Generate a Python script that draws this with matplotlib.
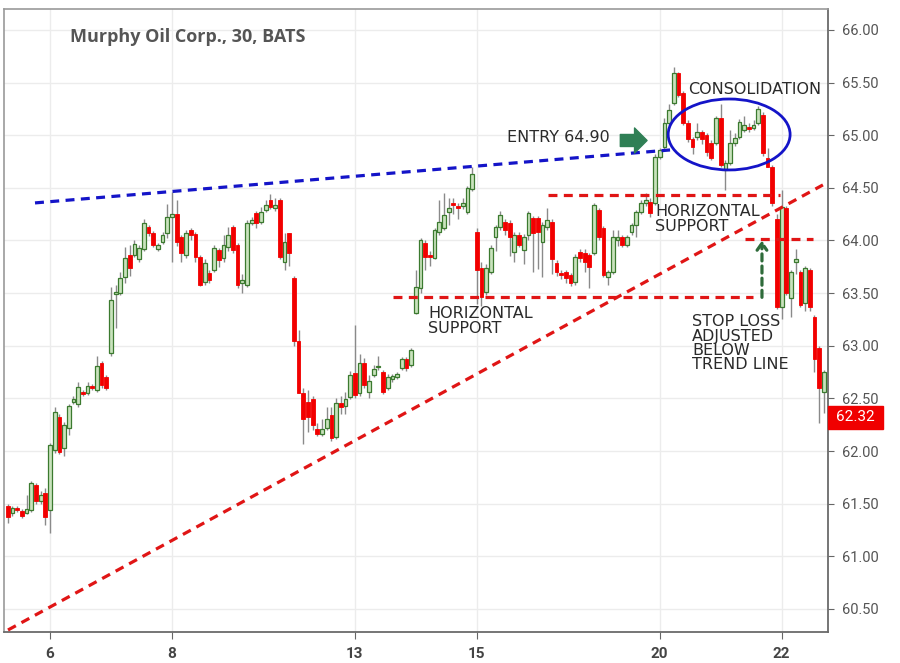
import numpy as np
import matplotlib
matplotlib.use("Agg")
import matplotlib.pyplot as plt
import matplotlib.transforms as mtransforms
from matplotlib.patches import Ellipse, Rectangle

# 30 minute bars (first 9 bars belong to the 5th)
opens = [
    61.48, 61.41, 61.46, 61.43, 61.41, 61.44, 61.68, 61.53, 61.60,
    61.44, 62.01, 62.32, 62.03, 62.22, 62.47, 62.45, 62.56, 62.55, 62.62, 62.58, 62.84, 62.70,
    62.93, 63.49, 63.50, 63.65, 63.86, 63.86, 63.82, 63.92, 64.13, 64.07, 63.92, 63.99, 64.07,
    64.22, 64.25, 64.03, 63.86, 64.10, 64.06, 63.84, 63.61, 63.69, 63.72, 63.91, 63.83, 63.94,
    64.13, 63.96, 63.60, 63.58, 64.17, 64.26, 64.18, 64.29, 64.38, 64.31, 64.38, 63.80, 64.07,
    63.64, 63.05, 62.55, 62.47, 62.49, 62.21, 62.16, 62.22, 62.34, 62.13, 62.46, 62.43, 62.51,
    62.74, 62.55, 62.84, 62.56, 62.72, 62.80, 62.75, 62.60, 62.68, 62.70, 62.79, 62.87, 62.82,
    63.31, 63.55, 63.98, 63.86, 63.83, 64.08, 64.12, 64.27, 64.36, 64.33, 64.33, 64.27, 64.49,
    64.08, 63.74, 63.51, 63.70, 64.03, 64.13, 64.18, 64.17, 63.89, 64.05, 63.91, 64.05, 64.21,
    64.21, 63.99, 64.13, 64.18, 63.79, 63.69, 63.70, 63.67, 63.61, 63.89, 63.88, 63.86, 63.88,
    64.29, 64.12, 63.65, 63.70, 64.00, 64.03, 63.96, 64.08, 64.15, 64.27, 64.36, 64.37, 64.36,
    64.79, 64.89, 65.12, 65.31, 65.59, 65.40, 65.12, 64.96, 64.98, 65.03, 65.00, 64.93, 64.93,
    65.16, 64.67, 64.74, 64.93, 64.98, 65.05, 65.08, 65.07, 65.12, 65.19, 64.78, 64.70, 64.20,
    63.37, 64.31, 63.45, 63.80, 63.70, 63.41, 63.72, 63.27, 62.98, 62.56,
]
closes = [
    61.37, 61.46, 61.44, 61.38, 61.45, 61.70, 61.53, 61.58, 61.37,
    62.06, 62.37, 61.99, 62.25, 62.43, 62.49, 62.61, 62.54, 62.62, 62.60, 62.81, 62.63, 62.60,
    63.43, 63.51, 63.64, 63.83, 63.74, 63.97, 63.93, 64.17, 64.07, 63.96, 63.96, 64.05, 64.22,
    64.25, 63.99, 63.88, 64.07, 64.05, 63.84, 63.58, 63.79, 63.62, 63.93, 63.81, 63.96, 64.05,
    63.91, 63.58, 63.62, 64.17, 64.19, 64.17, 64.27, 64.34, 64.32, 64.34, 63.84, 63.99, 63.88,
    63.05, 62.55, 62.30, 62.32, 62.25, 62.16, 62.21, 62.30, 62.12, 62.46, 62.42, 62.49, 62.72,
    62.53, 62.84, 62.63, 62.67, 62.78, 62.81, 62.56, 62.70, 62.71, 62.73, 62.87, 62.79, 62.96,
    63.56, 64.00, 63.84, 63.84, 64.10, 64.18, 64.24, 64.31, 64.34, 64.31, 64.36, 64.50, 64.63,
    63.72, 63.46, 63.74, 63.93, 64.13, 64.24, 64.10, 64.03, 64.05, 63.96, 64.03, 64.26, 64.07,
    64.08, 64.15, 64.19, 63.82, 63.70, 63.67, 63.64, 63.60, 63.84, 63.83, 63.80, 63.75, 64.34,
    64.03, 63.67, 63.70, 64.03, 64.03, 63.96, 64.03, 64.15, 64.27, 64.36, 64.38, 64.26, 64.79,
    64.86, 65.12, 65.24, 65.59, 65.38, 65.12, 64.96, 64.89, 65.03, 64.96, 64.84, 64.78, 65.16,
    64.72, 64.74, 64.93, 64.97, 65.13, 65.10, 65.06, 65.10, 65.25, 64.83, 64.70, 64.36, 63.37,
    64.32, 63.50, 63.70, 63.82, 63.39, 63.74, 63.37, 62.87, 62.60, 62.75,
]
highs = [
    61.50, 61.48, 61.48, 61.45, 61.58, 61.72, 61.70, 61.62, 61.65,
    62.08, 62.42, 62.35, 62.28, 62.45, 62.52, 62.66, 62.58, 62.66, 62.64, 62.90, 62.86, 62.72,
    63.56, 63.58, 63.70, 63.94, 63.96, 64.00, 63.96, 64.20, 64.15, 64.09, 63.98, 64.08, 64.35,
    64.46, 64.38, 64.05, 64.10, 64.12, 64.08, 63.86, 63.82, 63.72, 63.96, 63.93, 64.05, 64.13,
    64.15, 63.98, 63.68, 64.19, 64.22, 64.28, 64.32, 64.38, 64.44, 64.40, 64.40, 64.07, 64.07,
    63.66, 63.15, 62.60, 62.58, 62.52, 62.27, 62.30, 62.42, 62.42, 62.50, 62.52, 62.56, 62.76,
    63.20, 62.92, 62.88, 62.72, 62.82, 62.90, 62.77, 62.73, 62.73, 62.75, 62.89, 62.89, 62.98,
    63.72, 64.02, 64.00, 63.90, 64.12, 64.38, 64.45, 64.40, 64.40, 64.36, 64.40, 64.52, 64.70,
    64.12, 63.80, 63.78, 63.96, 64.15, 64.28, 64.20, 64.19, 64.08, 64.08, 64.06, 64.28, 64.23,
    64.23, 64.18, 64.31, 64.20, 63.81, 63.72, 63.72, 63.69, 63.87, 63.92, 63.92, 63.88, 64.36,
    64.31, 64.14, 63.72, 64.10, 64.10, 64.05, 64.05, 64.17, 64.29, 64.38, 64.45, 64.40, 64.82,
    64.88, 65.16, 65.30, 65.65, 65.60, 65.42, 65.14, 64.98, 65.12, 65.05, 65.02, 64.95, 65.18,
    65.30, 64.76, 65.05, 65.02, 65.15, 65.18, 65.12, 65.14, 65.28, 65.22, 64.88, 64.72, 64.25,
    64.48, 64.33, 63.72, 63.92, 63.72, 63.76, 63.74, 63.29, 63.00, 62.77,
]
lows = [
    61.32, 61.38, 61.42, 61.36, 61.40, 61.42, 61.50, 61.50, 61.30,
    61.22, 61.98, 61.97, 61.95, 62.15, 62.45, 62.42, 62.52, 62.53, 62.58, 62.56, 62.60, 62.58,
    62.90, 63.17, 63.48, 63.60, 63.66, 63.84, 63.80, 63.90, 64.04, 63.94, 63.90, 63.97, 64.02,
    63.80, 63.95, 63.80, 63.83, 64.00, 63.80, 63.57, 63.58, 63.60, 63.70, 63.75, 63.80, 63.90,
    63.88, 63.55, 63.50, 63.56, 64.15, 64.12, 64.16, 64.27, 64.30, 64.28, 63.82, 63.72, 63.76,
    63.00, 62.55, 62.07, 62.18, 62.20, 62.14, 62.14, 62.20, 62.10, 62.11, 62.35, 62.35, 62.49,
    62.50, 62.52, 62.60, 62.50, 62.70, 62.77, 62.54, 62.58, 62.66, 62.68, 62.77, 62.76, 62.80,
    63.30, 63.50, 63.72, 63.76, 63.82, 64.05, 64.10, 64.15, 64.25, 64.20, 64.30, 64.25, 64.47,
    63.40, 63.38, 63.48, 63.68, 63.90, 64.10, 64.05, 63.85, 63.80, 63.94, 63.78, 64.00, 63.70,
    63.73, 63.65, 64.10, 63.68, 63.66, 63.63, 63.60, 63.57, 63.58, 63.80, 63.70, 63.55, 63.86,
    64.00, 63.65, 63.58, 63.68, 63.95, 63.94, 63.94, 64.05, 64.03, 64.25, 64.33, 64.22, 64.34,
    64.77, 64.87, 65.10, 65.29, 65.36, 65.10, 64.94, 64.82, 64.95, 64.92, 64.80, 64.76, 64.91,
    64.70, 64.48, 64.72, 64.90, 64.96, 65.03, 65.03, 65.05, 65.10, 64.80, 64.76, 64.33, 63.35,
    63.25, 63.48, 63.27, 63.68, 63.37, 63.33, 63.33, 62.75, 62.27, 62.36,
]

day_ticks = [9, 35, 74, 100, 139, 165]
day_labels = ["6", "8", "13", "15", "20", "22"]
price_ticks = np.arange(60.5, 66.01, 0.5)
last_price = 62.32

# drawn lines (bar index, price)
resistance = ([5.8, 141.2], [64.357, 64.86])
trend = ([0.04, 173.8], [60.30, 64.528])
support_upper = ([115.2, 164.6], 64.43)
support_lower = ([82.1, 158.9], 63.46)
stop_level = ([157.2, 171.7], 64.01)

BULL_FACE = "#c9e3bd"
BULL_EDGE = "#3b7a2f"
BEAR = "#f20000"
LINE_RED = "#e01515"
LINE_BLUE = "#1414c8"
TEXT = "#2a2a2a"

fig = plt.figure(figsize=(9, 6.63), dpi=100)
ax = fig.add_axes([4 / 900, 31 / 663, 824 / 900, 623 / 663])

o = np.array(opens)
c = np.array(closes)
x = np.arange(len(o))
up = c >= o
body_bottom = np.minimum(o, c)
body_h = np.maximum(np.abs(c - o), 0.012)

ax.vlines(x, lows, highs, color="#8a8a8a", lw=1, zorder=2)
ax.bar(x[up], body_h[up], bottom=body_bottom[up], width=0.8,
       color=BULL_FACE, edgecolor=BULL_EDGE, linewidth=0.9, zorder=3)
ax.bar(x[~up], body_h[~up], bottom=body_bottom[~up], width=0.8,
       color=BEAR, edgecolor=BEAR, linewidth=0.6, zorder=3)

dash = (0, (2.8, 2.0))
ax.plot(*resistance, color=LINE_BLUE, lw=2.3, ls=dash, zorder=4)
ax.plot(*trend, color=LINE_RED, lw=2.3, ls=dash, zorder=4)
for xs, level in (support_upper, support_lower, stop_level):
    ax.hlines(level, xs[0], xs[1], color=LINE_RED, lw=2.3, ls=dash, zorder=4)

ax.add_patch(Ellipse((153.8, 65.007), 26, 0.674, fill=False,
                     ec=LINE_BLUE, lw=2, zorder=5))

# entry arrow
ax.annotate("", xy=(136.3, 64.95), xytext=(130.6, 64.95),
            arrowprops=dict(arrowstyle="simple,head_length=0.5,head_width=1.0,tail_width=0.48",
                            color="#2f7f55", mutation_scale=18,
                            shrinkA=0, shrinkB=0), zorder=6)
# stop loss moved up
ax.annotate("", xy=(160.8, 64.0), xytext=(160.8, 63.46),
            arrowprops=dict(arrowstyle="->,head_length=0.5,head_width=0.35",
                            color="#2e6b3a", lw=2.3, ls=(0, (2.2, 1.6)),
                            shrinkA=0, shrinkB=0), zorder=6)

txt = dict(fontsize=11.5, family="DejaVu Sans", color=TEXT, zorder=7)
ax.text(106.4, 64.975, "ENTRY 64.90", va="center", ha="left", **txt)
ax.text(145.0, 65.43, "CONSOLIDATION", va="center", ha="left", **txt)
ax.text(89.6, 63.38, "HORIZONTAL\nSUPPORT", va="top", ha="left", linespacing=1.0, **txt)
ax.text(138.0, 64.35, "HORIZONTAL\nSUPPORT", va="top", ha="left", linespacing=1.0, **txt)
ax.text(145.9, 63.30, "STOP LOSS\nADJUSTED\nBELOW\nTREND LINE", va="top", ha="left",
        linespacing=0.95, **txt)

ax.text(0.08, 0.955, "Murphy Oil Corp., 30, BATS", transform=ax.transAxes,
        fontsize=13, fontweight="bold", family="Open Sans", color="#555555",
        va="center", ha="left")

ax.set_xlim(-0.81, 174.88)
ax.set_ylim(60.281, 66.199)

ax.set_xticks(day_ticks)
ax.set_xticklabels(day_labels)
ax.set_yticks(price_ticks)
ax.set_yticklabels([f"{p:.2f}" for p in price_ticks])
ax.yaxis.tick_right()
ax.grid(True, color="#ececec", lw=1, zorder=0)
ax.set_axisbelow(True)

ax.tick_params(axis="y", direction="out", length=4, color="#666666",
               labelcolor="#555555", labelsize=10.5, pad=6)
ax.tick_params(axis="x", direction="out", length=5, color="#666666",
               labelcolor="#444444", labelsize=11, pad=6)
for lab in ax.get_xticklabels():
    lab.set_fontweight("bold")
    lab.set_family("Roboto")
for lab in ax.get_yticklabels():
    lab.set_family("Roboto")

for side in ("right", "bottom"):
    ax.spines[side].set_color("#6a6a6a")
    ax.spines[side].set_linewidth(1.3)
for side in ("top", "left"):
    ax.spines[side].set_color("#9a9a9a")
    ax.spines[side].set_linewidth(1.2)

# last price tag on the axis
blend = mtransforms.blended_transform_factory(ax.transAxes, ax.transData)
ax.add_patch(Rectangle((1.0, last_price - 0.109), 0.067, 0.218, transform=blend,
                       color="#f00000", clip_on=False, zorder=8))
ax.text(1.0335, last_price, f"{last_price:.2f}", transform=blend, color="white",
        fontsize=11, family="Roboto", ha="center", va="center", zorder=9)

fig.savefig("out.png", dpi=100)
